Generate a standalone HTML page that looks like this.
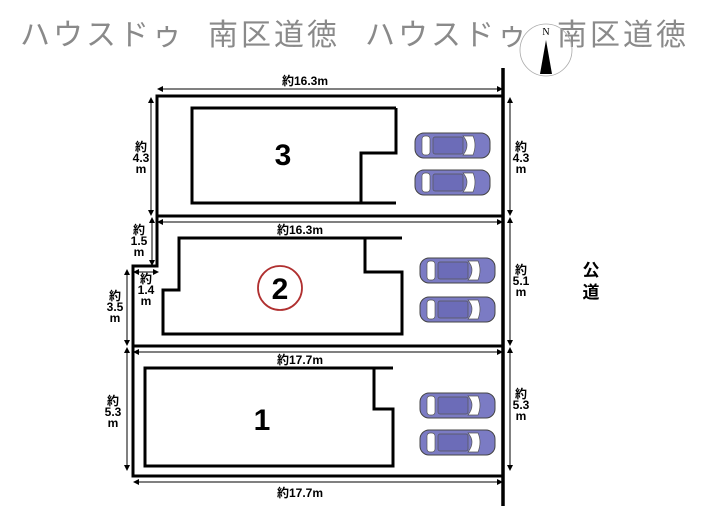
<!DOCTYPE html>
<html><head><meta charset="utf-8"><style>
body{margin:0;background:#fff;}
svg{display:block;font-family:"Liberation Sans","Noto Sans CJK JP",sans-serif;}
.d{font-size:12px;font-weight:bold;fill:#000;text-anchor:middle;}
</style></head><body>
<svg width="705" height="525" viewBox="0 0 705 525" xmlns="http://www.w3.org/2000/svg">
<defs>
<marker id="a" markerWidth="6" markerHeight="6" refX="5" refY="3" orient="auto-start-reverse"><path d="M0,0 L6,3 L0,6 z" fill="#000"/></marker>
<g id="car">
<rect x="0" y="0" width="75" height="25" rx="9" fill="#7b7bc4" stroke="#444" stroke-width="1"/>
<rect x="7" y="3" width="8" height="19" rx="3" fill="#fff" stroke="#555" stroke-width="0.7"/>
<rect x="18" y="4" width="30" height="17" rx="2" fill="#6c6cb8" stroke="#555" stroke-width="0.7"/>
<path d="M48,3 Q56,12 48,22 L58,22 Q62,12 58,3 z" fill="#fff" stroke="#555" stroke-width="0.7"/>
</g>
</defs>
<g font-size="30" fill="#8a8a8a" style="letter-spacing:3px">
<text x="20" y="45">ハウスドゥ</text><text x="208" y="45">南区道徳</text>
<text x="365" y="45">ハウスドゥ</text><text x="557" y="45">南区道徳</text>
</g>
<circle cx="546" cy="50" r="26" fill="none" stroke="#aaa" stroke-width="0.8"/>
<text x="546" y="35" font-size="10" text-anchor="middle" font-family="Liberation Serif,serif">N</text>
<path d="M546,40 L540,74 L552,74 z" fill="#000"/>

<g fill="none" stroke="#000" stroke-width="3">
<path d="M503,96 H157 V216 H503"/>
<path d="M157,216 V266 H133 V476 H503"/>
<path d="M133,346 H503"/>
<path d="M503,68 V506" stroke-width="3.5"/>
<path d="M396,108 H192 V203 H396 M396,108 V153 H361 V203"/>
<path d="M402,238 H179 V290 H163 V334 H402 V272 H365 V238"/>
<path d="M393,368 H145 V466 H393 V409 H374 V368"/>
</g>
<circle cx="280" cy="288" r="22" fill="none" stroke="#b03030" stroke-width="1.8"/>
<g font-size="30" font-weight="bold" text-anchor="middle">
<text x="283" y="165">3</text><text x="280" y="299">2</text><text x="262" y="430">1</text>
</g>
<use href="#car" x="415" y="133"/><use href="#car" x="415" y="170"/>
<use href="#car" x="420" y="258"/><use href="#car" x="420" y="297"/>
<use href="#car" x="420" y="393"/><use href="#car" x="420" y="430"/>

<g stroke="#000" stroke-width="1" marker-start="url(#a)" marker-end="url(#a)">
<line x1="158" y1="89" x2="502" y2="89"/>
<line x1="158" y1="222" x2="502" y2="222"/>
<line x1="134" y1="352" x2="502" y2="352"/>
<line x1="134" y1="482" x2="502" y2="482"/>
<line x1="151" y1="98" x2="151" y2="215"/>
<line x1="152" y1="218" x2="152" y2="265"/>
<line x1="134" y1="272" x2="158" y2="272"/>
<line x1="127" y1="270" x2="127" y2="345"/>
<line x1="127" y1="348" x2="127" y2="470"/>
<line x1="510" y1="98" x2="510" y2="215"/>
<line x1="510" y1="218" x2="510" y2="345"/>
<line x1="510" y1="348" x2="510" y2="470"/>
</g>
<g class="d">
<text x="305" y="85" class="d">約16.3m</text>
<text x="300" y="234" class="d">約16.3m</text>
<text x="300" y="364" class="d">約17.7m</text>
<text x="300" y="497" class="d">約17.7m</text>
<text class="d" x="141" y="151">約</text><text class="d" x="141" y="162">4.3</text><text class="d" x="141" y="173">m</text>
<text class="d" x="139" y="234">約</text><text class="d" x="139" y="245">1.5</text><text class="d" x="139" y="256">m</text>
<text class="d" x="146" y="283">約</text><text class="d" x="146" y="294">1.4</text><text class="d" x="146" y="305">m</text>
<text class="d" x="115" y="300">約</text><text class="d" x="115" y="311">3.5</text><text class="d" x="115" y="322">m</text>
<text class="d" x="113" y="405">約</text><text class="d" x="113" y="416">5.3</text><text class="d" x="113" y="427">m</text>
<text class="d" x="521" y="151">約</text><text class="d" x="521" y="162">4.3</text><text class="d" x="521" y="173">m</text>
<text class="d" x="521" y="274">約</text><text class="d" x="521" y="285">5.1</text><text class="d" x="521" y="296">m</text>
<text class="d" x="521" y="398">約</text><text class="d" x="521" y="409">5.3</text><text class="d" x="521" y="420">m</text>
</g>
<g font-size="17" font-weight="bold" text-anchor="middle">
<text x="591" y="276">公</text><text x="591" y="298">道</text>
</g>
</svg>
</body></html>
